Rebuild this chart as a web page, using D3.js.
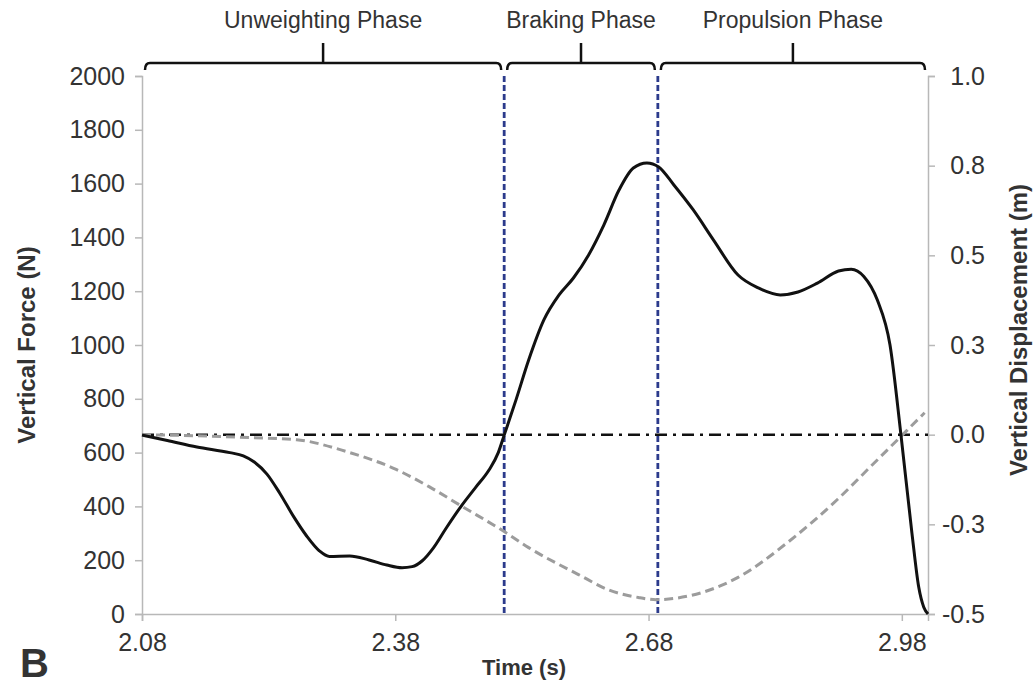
<!DOCTYPE html>
<html>
<head>
<meta charset="utf-8">
<script src="https://cdn.jsdelivr.net/npm/d3@7"></script>
<style>
  body { margin: 0; background: #fff; }
  text { font-family: "Liberation Sans", Arial, sans-serif; fill: #333; }
</style>
</head>
<body>
<div id="chart"></div>
<script>
// force trace (s, N)
const forceTime = [2.080, 2.110, 2.145, 2.184, 2.200, 2.213, 2.228, 2.243, 2.260, 2.275, 2.290, 2.302, 2.326, 2.349, 2.370, 2.388, 2.400, 2.412, 2.425, 2.440, 2.459, 2.475, 2.491, 2.502, 2.509,
  2.523, 2.538, 2.556, 2.574, 2.591, 2.609, 2.627, 2.645, 2.662, 2.678, 2.692, 2.710, 2.733, 2.757, 2.786, 2.810, 2.836, 2.857, 2.880, 2.905, 2.920, 2.935, 2.951, 2.966, 2.979, 2.992, 3.000, 3.006, 3.011];
const forceN = [665, 645, 621, 600, 588, 565, 520, 450, 360, 290, 235, 214, 216, 201, 182, 172, 176, 198, 245, 318, 405, 470, 535, 600, 665,
  796, 944, 1093, 1186, 1249, 1335, 1446, 1576, 1658, 1677, 1662, 1595, 1502, 1390, 1260, 1212, 1186, 1197, 1230, 1275, 1282, 1255, 1167, 1000, 665, 300, 100, 25, 0];

// displacement trace (s, m)
const dispTime = [2.080, 2.145, 2.208, 2.263, 2.322, 2.381, 2.420, 2.459, 2.509, 2.538, 2.597, 2.633, 2.668, 2.689, 2.727, 2.786, 2.845, 2.904, 2.943, 2.975, 3.007];
const dispM = [0, -0.003, -0.008, -0.014, -0.047, -0.097, -0.145, -0.200, -0.270, -0.315, -0.390, -0.433, -0.454, -0.460, -0.450, -0.398, -0.300, -0.180, -0.089, -0.014, 0.061];

const phaseNames = ["Unweighting Phase", "Braking Phase", "Propulsion Phase"];
const phaseStart = [2.08, 2.509, 2.691];
const phaseEnd = [2.509, 2.691, 3.011];
const phaseLines = [2.509, 2.691];

const xTicks = [2.08, 2.38, 2.68, 2.98];
const leftTicks = [0, 200, 400, 600, 800, 1000, 1200, 1400, 1600, 1800, 2000];
const rightTicks = [-0.5, -0.25, 0, 0.25, 0.5, 0.75, 1.0];

const W = 1033, H = 685;
const m = {left: 142, right: 105, top: 76, bottom: 71};

const svg = d3.select("#chart").append("svg")
  .attr("width", W).attr("height", H);

const x = d3.scaleLinear().domain([2.08, 3.011]).range([m.left, W - m.right]);
const yF = d3.scaleLinear().domain([0, 2000]).range([H - m.bottom, m.top]);
const yD = d3.scaleLinear().domain([-0.5, 1.0]).range([H - m.bottom, m.top]);

// axes
const axColor = "#b8b8b8";
const gx = svg.append("g").attr("transform", `translate(0,${H - m.bottom})`)
  .call(d3.axisBottom(x).tickValues(xTicks).tickFormat(d3.format(".2f")).tickSize(7).tickPadding(12));
const gl = svg.append("g").attr("transform", `translate(${m.left},0)`)
  .call(d3.axisLeft(yF).tickValues(leftTicks).tickFormat(d3.format("d")).tickSize(7).tickPadding(10));
const gr = svg.append("g").attr("transform", `translate(${W - m.right},0)`)
  .call(d3.axisRight(yD).tickValues(rightTicks).tickFormat(d => d.toFixed(1)).tickSize(7).tickPadding(10));

[gx, gl, gr].forEach(g => {
  g.selectAll("path.domain").attr("stroke", axColor).attr("stroke-width", 1.5);
  g.selectAll(".tick line").attr("stroke", axColor).attr("stroke-width", 1.5);
  g.selectAll(".tick text").style("font-size", "25px").attr("fill", "#3a3a3a");
});
gr.selectAll(".tick text").attr("text-anchor", "end").attr("x", 57);

// zero displacement line
svg.append("line")
  .attr("x1", x(2.08)).attr("x2", x(3.011))
  .attr("y1", yD(0)).attr("y2", yD(0))
  .attr("stroke", "#111").attr("stroke-width", 2.5)
  .attr("stroke-dasharray", "12,6,3,6");

// phase boundaries
svg.selectAll(".phase-line")
  .data(phaseLines)
  .enter()
  .append("line")
  .attr("x1", d => x(d)).attr("x2", d => x(d))
  .attr("y1", m.top).attr("y2", H - m.bottom)
  .attr("stroke", "#2c3b8c").attr("stroke-width", 2.8)
  .attr("stroke-dasharray", "6,3");

// displacement
const dispData = dispTime.map((t, i) => [t, dispM[i]]);
svg.append("path")
  .datum(dispData)
  .attr("fill", "none")
  .attr("stroke", "#9c9c9c").attr("stroke-width", 3)
  .attr("stroke-dasharray", "9,5")
  .attr("d", d3.line().x(d => x(d[0])).y(d => yD(d[1])).curve(d3.curveMonotoneX));

// force
const forceData = forceTime.map((t, i) => [t, forceN[i]]);
svg.append("path")
  .datum(forceData)
  .attr("fill", "none")
  .attr("stroke", "#111").attr("stroke-width", 3)
  .attr("d", d3.line().x(d => x(d[0])).y(d => yF(d[1])).curve(d3.curveMonotoneX));

// phase brackets
const by = 63;
phaseNames.forEach((name, i) => {
  const x0 = x(phaseStart[i]) + 3, x1 = x(phaseEnd[i]) - 3, mid = (x0 + x1) / 2;
  svg.append("path")
    .attr("fill", "none").attr("stroke", "#111").attr("stroke-width", 2.5)
    .attr("d", `M${x0},${by + 7} Q${x0},${by} ${x0 + 5},${by} L${x1 - 5},${by} Q${x1},${by} ${x1},${by + 7} M${mid},${by} L${mid},${by - 20}`);
  svg.append("text")
    .attr("x", mid).attr("y", 28)
    .attr("text-anchor", "middle")
    .style("font-size", "23px")
    .text(name);
});

// axis titles
svg.append("text")
  .attr("transform", `translate(35,${(m.top + H - m.bottom) / 2}) rotate(-90)`)
  .attr("text-anchor", "middle")
  .style("font-size", "24px").style("font-weight", "bold")
  .text("Vertical Force (N)");
svg.append("text")
  .attr("transform", `translate(1027,330) rotate(-90)`)
  .attr("text-anchor", "middle")
  .style("font-size", "24px").style("font-weight", "bold")
  .text("Vertical Displacement (m)");
svg.append("text")
  .attr("x", 524).attr("y", 675)
  .attr("text-anchor", "middle")
  .style("font-size", "22px").style("font-weight", "bold")
  .text("Time (s)");
svg.append("text")
  .attr("x", 20).attr("y", 677)
  .style("font-size", "40px").style("font-weight", "bold").attr("fill", "#111")
  .text("B");
</script>
</body>
</html>
